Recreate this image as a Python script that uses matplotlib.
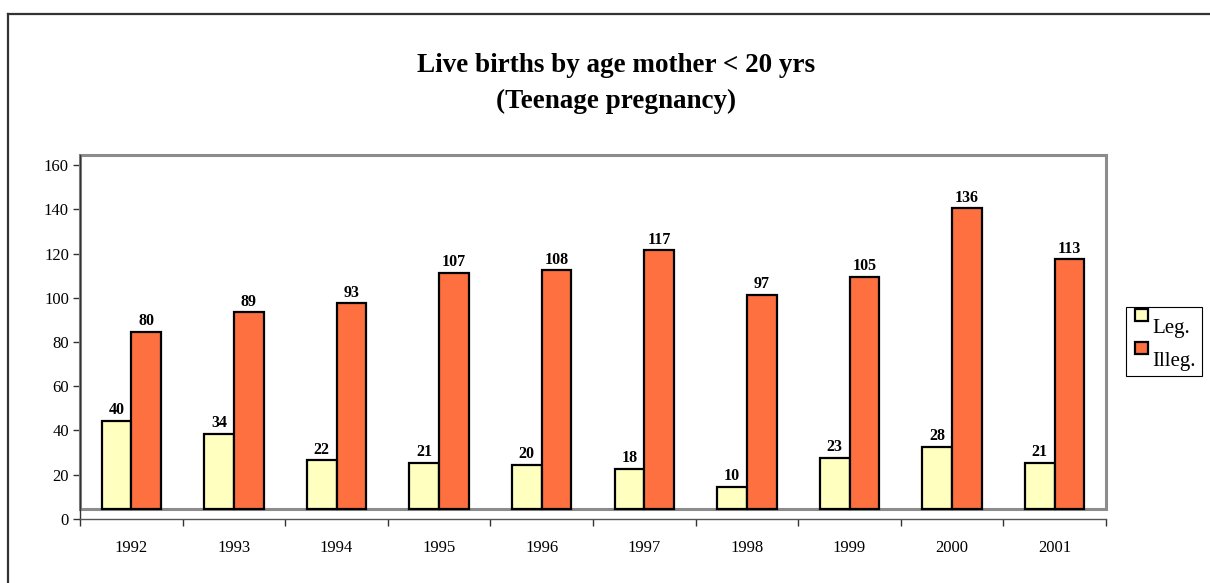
import matplotlib
matplotlib.use("Agg")
import matplotlib.pyplot as plt
from matplotlib.patches import Rectangle
import numpy as np

years = ["1992", "1993", "1994", "1995", "1996", "1997", "1998", "1999", "2000", "2001"]
leg = [40, 34, 22, 21, 20, 18, 10, 23, 28, 21]
illeg = [80, 89, 93, 107, 108, 117, 97, 105, 136, 113]
series_names = ["Leg.", "Illeg."]
title_lines = ["Live births by age mother < 20 yrs", "(Teenage pregnancy)"]

W, H = 1210, 583
plt.rcParams['font.family'] = ['Liberation Serif', 'DejaVu Serif']
fig = plt.figure(figsize=(W / 100, H / 100), dpi=100)

def fx(x):
    return x / W

def fy(y):
    return 1 - y / H

floor = 4.4
ymax = 164.6
ax_left, ax_right, ax_bottom, ax_top = 80, 1106, 518.7, 155
ax = fig.add_axes([fx(ax_left), fy(ax_bottom), fx(ax_right - ax_left), (ax_bottom - ax_top) / H])
ax.set_xlim(0, len(years))
ax.set_ylim(0, ymax)

yellow = "#FFFFC0"
orange = "#FF7040"
bw = 0.29
x = np.arange(len(years)) + 0.5
ax.bar(x - bw / 2, leg, bw, bottom=floor, color=yellow, edgecolor="black", linewidth=1.6, zorder=3)
ax.bar(x + bw / 2, illeg, bw, bottom=floor, color=orange, edgecolor="black", linewidth=1.6, zorder=3)

for xi, v in zip(x - bw / 2, leg):
    ax.annotate(str(v), (xi, v + floor), xytext=(0, 2), textcoords="offset points",
                ha="center", va="bottom", fontsize=11.5, fontweight="bold", zorder=4)
for xi, v in zip(x + bw / 2, illeg):
    ax.annotate(str(v), (xi, v + floor), xytext=(0, 2), textcoords="offset points",
                ha="center", va="bottom", fontsize=11.5, fontweight="bold", zorder=4)

# gray wall/floor frame
ax.add_patch(Rectangle((0, floor), len(years), ymax - floor, fill=False,
                       edgecolor="#8c8c8c", linewidth=2.2, zorder=2, clip_on=False))

for s in ["top", "right"]:
    ax.spines[s].set_visible(False)
ax.spines["left"].set_color("#333333")
ax.spines["bottom"].set_color("#555555")
ax.spines["left"].set_linewidth(1.0)
ax.spines["bottom"].set_linewidth(1.0)
ax.spines["left"].set_bounds(0, ymax)

ax.set_yticks(np.arange(0, 161, 20))
ax.tick_params(axis="y", direction="out", length=5, width=1, color="#333333", labelsize=12, pad=3)
ax.set_xticks(np.arange(0, len(years) + 1))
ax.set_xticklabels([])
ax.set_xticks(x, minor=True)
ax.set_xticklabels(years, minor=True)
ax.tick_params(axis="x", which="major", direction="out", length=5, width=1, color="#333333")
ax.tick_params(axis="x", which="minor", length=0, labelsize=12, pad=15)

fig.text(fx(616), fy(72), title_lines[0], ha="center", va="baseline", fontsize=19.5, fontweight="bold")
fig.text(fx(616), fy(108), title_lines[1], ha="center", va="baseline", fontsize=19.5, fontweight="bold")

# outer border
fig.add_artist(plt.Line2D([fx(8), fx(8)], [fy(14), 0], transform=fig.transFigure, color="#333333", lw=1.6))
fig.add_artist(plt.Line2D([fx(8), 1], [fy(14), fy(14)], transform=fig.transFigure, color="#333333", lw=1.6))

# legend drawn manually
fig.add_artist(Rectangle((fx(1126), fy(376)), fx(1202 - 1126), (376 - 307) / H,
                         transform=fig.transFigure, facecolor="white", edgecolor="black", lw=0.8))
for (y0, col, name, yb) in [(309, yellow, series_names[0], 333), (342, orange, series_names[1], 366)]:
    fig.add_artist(Rectangle((fx(1135), fy(y0 + 12)), fx(13), 12 / H, transform=fig.transFigure,
                             facecolor=col, edgecolor="black", lw=1.6))
    fig.text(fx(1152), fy(yb), name, ha="left", va="baseline", fontsize=15)

fig.savefig("out.png", dpi=100)
